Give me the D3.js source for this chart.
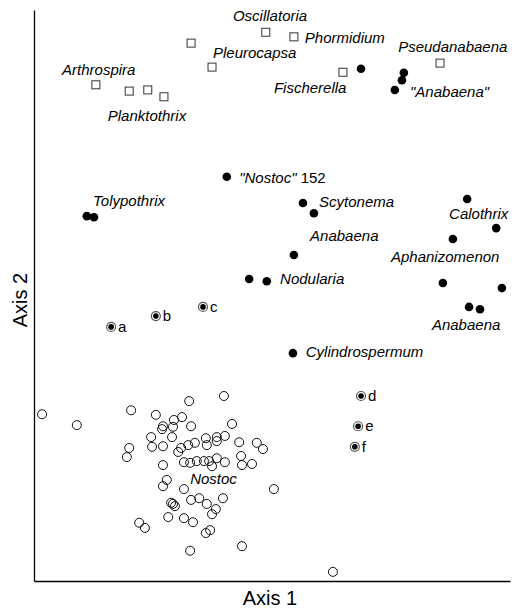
<!DOCTYPE html>
<html>
<head>
<meta charset="utf-8">
<script src="https://cdn.jsdelivr.net/npm/d3@7"></script>
<style>
  body { margin: 0; background: #fff; }
  text { font-family: "Liberation Sans", Arial, sans-serif; }
</style>
</head>
<body>
<div id="canvas"></div>
<script>
"use strict"

/* Ordination scores (0-100 on both axes) */

// Nostoc strains, open circles
let nostocX = [1.7, 9.0, 20.4, 32.6, 39.9, 25.6, 29.4, 31.1, 27.1, 26.9, 29.2, 33.0, 41.6,
    24.6, 29.0, 36.1, 38.4, 40.1, 20.0, 19.5, 24.8, 27.1, 30.9, 32.4, 33.8, 36.3, 38.4,
    43.1, 46.8, 48.1, 30.3, 31.5, 32.8, 34.2, 35.7, 36.8, 38.4, 40.1, 37.4, 43.5, 43.7,
    45.8, 27.1, 27.9, 27.1, 31.5, 50.4, 28.8, 29.2, 29.6, 33.0, 34.7, 36.3, 39.7, 38.2,
    37.4, 28.2, 31.5, 33.4, 22.1, 23.3, 37.0, 36.1, 43.7, 32.8, 62.8];
let nostocY = [29.2, 27.3, 29.9, 31.5, 32.4, 29.1, 28.2, 28.7, 27.1, 26.6, 27.0, 27.1, 27.5,
    25.2, 25.2, 25.0, 25.2, 25.4, 23.3, 21.7, 23.5, 23.6, 23.3, 23.8, 24.2, 23.8, 24.5,
    24.3, 24.2, 23.1, 22.6, 20.8, 20.7, 21.0, 21.0, 21.0, 21.5, 20.8, 20.1, 21.9, 20.3,
    20.5, 20.3, 17.7, 16.6, 16.1, 16.1, 13.7, 13.5, 13.1, 14.2, 14.5, 13.5, 14.5, 12.6,
    11.7, 11.2, 11.0, 10.3, 10.2, 9.3, 8.9, 8.4, 6.1, 5.3, 1.6];

// other heterocystous strains, filled circles
let heteroX = [68.7, 77.7, 77.3, 75.8, 40.5, 11.1, 12.6, 56.5, 58.8, 54.6, 45.2, 48.9,
    91.0, 97.1, 88.0, 85.9, 98.3, 91.4, 93.7, 54.4];
let heteroY = [89.7, 89.0, 87.7, 86.0, 70.8, 63.9, 63.7, 66.2, 64.4, 57.1, 52.9, 52.5,
    66.9, 61.8, 59.9, 52.2, 51.3, 48.0, 47.6, 39.9];

// non-heterocystous strains, open squares
let nonHetX = [48.7, 54.6, 33.0, 37.4, 85.3, 64.9, 13.0, 20.0, 23.9, 27.3];
let nonHetY = [96.1, 95.3, 94.2, 90.0, 90.7, 89.1, 86.9, 85.8, 86.0, 84.8];

// unknown isolates a-f
let isoNames = ["a", "b", "c", "d", "e", "f"];
let isoX = [16.2, 25.6, 35.5, 68.7, 68.1, 67.4];
let isoY = [44.5, 46.4, 48.0, 32.4, 27.1, 23.5];

// genus labels (text, x, y of text start)
let labelText = ["Oscillatoria", "Phormidium", "Pleurocapsa", "Pseudanabaena", "Fischerella",
    "\"Anabaena\"", "Arthrospira", "Planktothrix", "Tolypothrix", "Scytonema", "Anabaena",
    "Nodularia", "Calothrix", "Aphanizomenon", "Anabaena", "Cylindrospermum", "Nostoc"];
let labelX = [41.8, 56.9, 37.6, 76.5, 50.4, 79.0, 5.9, 15.5, 12.4, 59.9, 58.0, 51.7, 87.2,
    75.0, 83.6, 57.1, 32.8];
let labelY = [98.0, 94.2, 91.6, 92.6, 85.5, 84.8, 88.6, 80.6, 65.7, 65.5, 59.5, 52.0, 63.4,
    55.9, 44.0, 39.2, 17.0];

/* Configuration variables: drawing */
let svgWidth = 512;
let svgHeight = 608;
let plotLeft = 34, plotRight = 510, plotTop = 10, plotBottom = 581;

let svg = d3.select("#canvas")
    .append("svg")
    .attr("width", svgWidth)
    .attr("height", svgHeight);

let xScale = d3.scaleLinear()
    .domain([0, 100])
    .range([plotLeft, plotRight]);

let yScale = d3.scaleLinear()
    .domain([0, 100])
    .range([plotBottom, plotTop]);

/* axes: plain lines, no ticks */
svg.append("g")
    .attr("transform", "translate(" + plotLeft + ",0)")
    .call(d3.axisLeft(yScale).tickValues([]).tickSizeOuter(0))
    .select(".domain").attr("stroke", "#000").attr("stroke-width", 1.3);

svg.append("g")
    .attr("transform", "translate(0," + plotBottom + ")")
    .call(d3.axisBottom(xScale).tickValues([]).tickSizeOuter(0))
    .select(".domain").attr("stroke", "#000").attr("stroke-width", 1.3);

svg.append("text")
    .attr("x", 270)
    .attr("y", 605)
    .attr("text-anchor", "middle")
    .attr("font-size", 20)
    .text("Axis 1");

svg.append("text")
    .attr("transform", "translate(27,300) rotate(-90)")
    .attr("text-anchor", "middle")
    .attr("font-size", 20)
    .text("Axis 2");

/* Nostoc open circles */
svg.append("g").selectAll("circle")
    .data(d3.range(nostocX.length))
    .join("circle")
    .attr("cx", i => xScale(nostocX[i]))
    .attr("cy", i => yScale(nostocY[i]))
    .attr("r", 4.5)
    .attr("fill", "none")
    .attr("stroke", "#111")
    .attr("stroke-width", 1);

/* filled circles */
svg.append("g").selectAll("circle")
    .data(d3.range(heteroX.length))
    .join("circle")
    .attr("cx", i => xScale(heteroX[i]))
    .attr("cy", i => yScale(heteroY[i]))
    .attr("r", 4.3)
    .attr("fill", "#000");

/* squares */
let sq = 8;
svg.append("g").selectAll("rect")
    .data(d3.range(nonHetX.length))
    .join("rect")
    .attr("x", i => xScale(nonHetX[i]) - sq / 2)
    .attr("y", i => yScale(nonHetY[i]) - sq / 2)
    .attr("width", sq)
    .attr("height", sq)
    .attr("fill", "#fff")
    .attr("stroke", "#333")
    .attr("stroke-width", 1);

/* isolates a-f: ringed dots */
let iso = svg.append("g").selectAll("g")
    .data(d3.range(isoNames.length))
    .join("g")
    .attr("transform", i => "translate(" + xScale(isoX[i]) + "," + yScale(isoY[i]) + ")");

iso.append("circle")
    .attr("r", 4.5)
    .attr("fill", "#fff")
    .attr("stroke", "#555")
    .attr("stroke-width", 1.2);
iso.append("circle")
    .attr("r", 2.8)
    .attr("fill", "#000");
iso.append("text")
    .attr("x", 7)
    .attr("y", 5)
    .attr("font-size", 15)
    .text(i => isoNames[i]);

/* genus labels */
svg.append("g").selectAll("text")
    .data(d3.range(labelText.length))
    .join("text")
    .attr("x", i => xScale(labelX[i]))
    .attr("y", i => yScale(labelY[i]))
    .attr("font-size", 15)
    .attr("font-style", "italic")
    .text(i => labelText[i]);

// "Nostoc" 152 has an upright strain number
let n152 = svg.append("text")
    .attr("x", xScale(43.1))
    .attr("y", yScale(69.7))
    .attr("font-size", 15);
n152.append("tspan").attr("font-style", "italic").text("\"Nostoc\"");
n152.append("tspan").text(" 152");
</script>
</body>
</html>
